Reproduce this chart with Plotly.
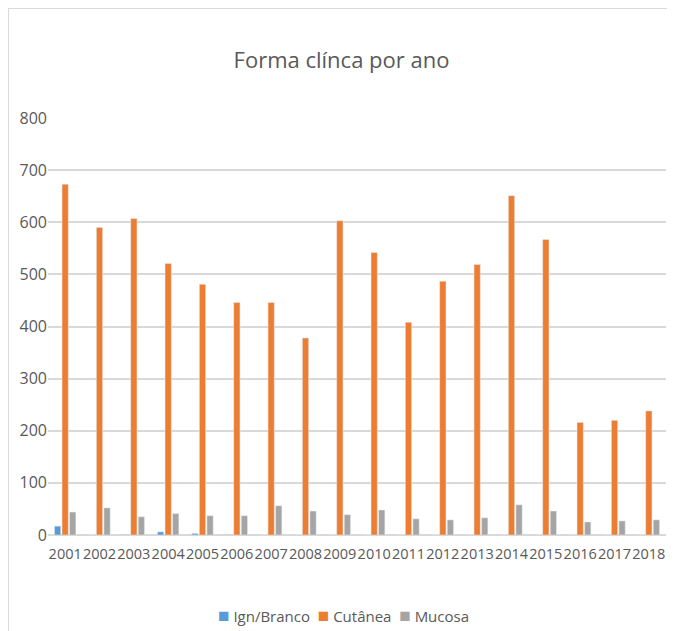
import plotly.graph_objects as go

years = [str(y) for y in range(2001, 2019)]
ign_branco = [17, 0, 1, 6, 3, 1, 0, 0, 0, 0, 0, 0, 0, 0, 0, 0, 0, 0]
cutanea = [673, 590, 607, 521, 481, 446, 446, 378, 603, 542, 408, 487, 519, 651, 567, 216, 220, 238]
mucosa = [44, 52, 35, 41, 37, 37, 56, 46, 39, 48, 31, 29, 33, 58, 46, 25, 27, 29]
y_ticks = [0, 100, 200, 300, 400, 500, 600, 700, 800]
series_names = ["Ign/Branco", "Cutânea", "Mucosa"]
series_colors = ["#5B9BD5", "#ED7D31", "#A5A5A5"]

FONT = "Open Sans, sans-serif"
TXT = "#595959"

fig = go.Figure()
for name, vals, col in zip(series_names, [ign_branco, cutanea, mucosa], series_colors):
    fig.add_trace(go.Bar(name=name, x=years, y=vals, marker_color=col))

# page body has an 8px margin, so the figure is sized to fit the window
W, H = 667, 623
L, R, T, B = 40, 9, 110, 96
pw, ph = W - L - R, H - T - B

def px_to_paper_x(px):
    return (px - L) / pw

def px_to_paper_y(py):
    return (H - B - py) / ph

legend_text = "&nbsp;&nbsp;".join(
    f"<span style='color:{c};font-size:19px'>■</span> {n}" for n, c in zip(series_names, series_colors)
)

fig.update_layout(
    width=W, height=H,
    margin=dict(l=L, r=R, t=T, b=B, autoexpand=False),
    paper_bgcolor="white", plot_bgcolor="white",
    barmode="group", bargap=0.34, bargroupgap=0.17,
    font=dict(family=FONT, color=TXT, size=15),
    title=dict(text="Forma clínca por ano", x=0.5, xanchor="center",
               y=1 - 52 / H, yanchor="middle",
               font=dict(family=FONT, size=22, color=TXT)),
    showlegend=False,
    annotations=[dict(text=legend_text, xref="paper", yref="paper", x=px_to_paper_x(335),
                      xanchor="center", y=px_to_paper_y(607), yanchor="middle", showarrow=False,
                      font=dict(family=FONT, size=15, color=TXT))],
    xaxis=dict(showgrid=False, showline=False, zeroline=False, ticks="", tickangle=0,
               ticklabelstandoff=8,
               tickfont=dict(family=FONT, size=14.5, color=TXT)),
    yaxis=dict(range=[0, 800], tickvals=y_ticks, showgrid=True, gridcolor="#D9D9D9", gridwidth=1.5,
               zeroline=True, zerolinecolor="#D9D9D9", zerolinewidth=1.5, showline=False,
               ticks="", tickfont=dict(family=FONT, size=16, color=TXT)),
    shapes=[dict(type="rect", xref="paper", yref="paper",
                 x0=px_to_paper_x(0.5), x1=px_to_paper_x(W + 20),
                 y0=px_to_paper_y(H + 20), y1=px_to_paper_y(0.5),
                 line=dict(color="#D9D9D9", width=1), fillcolor="rgba(0,0,0,0)", layer="below")],
)

fig.write_html("out.html")
